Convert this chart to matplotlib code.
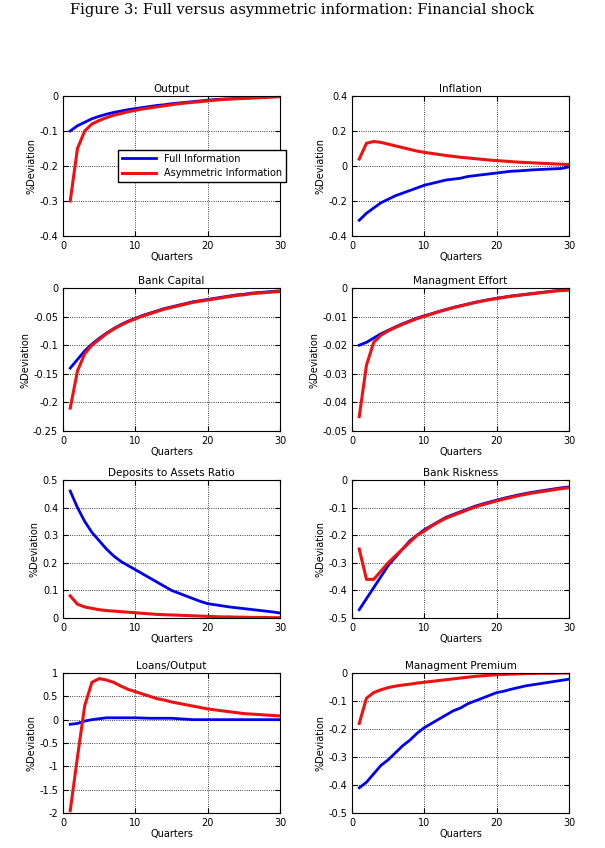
import numpy as np
from matplotlib import pyplot as plt

quarters = np.arange(1, 31)

output_full = [-0.10,-0.085,-0.075,-0.065,-0.058,-0.052,-0.047,-0.043,-0.039,-0.036,-0.033,-0.030,-0.027,-0.025,-0.022,-0.020,-0.018,-0.016,-0.014,-0.012,-0.010,-0.009,-0.008,-0.007,-0.006,-0.005,-0.004,-0.003,-0.002,-0.001]
output_asym = [-0.30,-0.15,-0.10,-0.08,-0.07,-0.062,-0.055,-0.05,-0.045,-0.041,-0.037,-0.034,-0.031,-0.028,-0.025,-0.022,-0.020,-0.018,-0.016,-0.014,-0.012,-0.010,-0.009,-0.008,-0.007,-0.006,-0.005,-0.004,-0.003,-0.002]

infl_full = [-0.31,-0.27,-0.24,-0.21,-0.19,-0.17,-0.155,-0.14,-0.125,-0.11,-0.10,-0.09,-0.08,-0.075,-0.07,-0.06,-0.055,-0.05,-0.045,-0.04,-0.035,-0.03,-0.028,-0.025,-0.022,-0.02,-0.018,-0.016,-0.014,-0.005]
infl_asym = [0.04,0.13,0.14,0.135,0.125,0.115,0.105,0.095,0.085,0.078,0.072,0.066,0.06,0.055,0.05,0.046,0.042,0.038,0.034,0.031,0.028,0.025,0.022,0.02,0.018,0.016,0.014,0.012,0.01,0.008]

capital_full = [-0.14,-0.125,-0.11,-0.098,-0.088,-0.079,-0.071,-0.064,-0.058,-0.053,-0.048,-0.044,-0.040,-0.036,-0.033,-0.030,-0.027,-0.024,-0.022,-0.020,-0.018,-0.016,-0.014,-0.012,-0.011,-0.009,-0.008,-0.007,-0.006,-0.005]
capital_asym = [-0.21,-0.145,-0.115,-0.10,-0.09,-0.08,-0.072,-0.065,-0.059,-0.054,-0.049,-0.045,-0.041,-0.037,-0.034,-0.031,-0.028,-0.025,-0.023,-0.021,-0.019,-0.017,-0.015,-0.013,-0.012,-0.010,-0.009,-0.008,-0.007,-0.006]

effort_full = [-0.02,-0.019,-0.0175,-0.016,-0.0148,-0.0136,-0.0125,-0.0115,-0.0105,-0.0097,-0.009,-0.0082,-0.0075,-0.0068,-0.0062,-0.0056,-0.005,-0.0045,-0.004,-0.0036,-0.0032,-0.0028,-0.0025,-0.0022,-0.0019,-0.0016,-0.0013,-0.001,-0.0008,-0.0006]
effort_asym = [-0.045,-0.027,-0.019,-0.0165,-0.015,-0.0138,-0.0127,-0.0117,-0.0107,-0.0099,-0.0091,-0.0083,-0.0076,-0.0069,-0.0063,-0.0057,-0.0051,-0.0046,-0.0041,-0.0037,-0.0033,-0.0029,-0.0026,-0.0023,-0.002,-0.0017,-0.0014,-0.0011,-0.0009,-0.0007]

deposits_full = [0.46,0.40,0.35,0.31,0.28,0.25,0.225,0.205,0.19,0.175,0.16,0.145,0.13,0.115,0.10,0.09,0.08,0.07,0.06,0.052,0.048,0.044,0.04,0.037,0.034,0.031,0.028,0.025,0.022,0.018]
deposits_asym = [0.08,0.05,0.04,0.035,0.03,0.027,0.025,0.023,0.021,0.019,0.017,0.015,0.013,0.012,0.011,0.010,0.009,0.008,0.007,0.006,0.005,0.004,0.004,0.003,0.003,0.002,0.002,0.002,0.001,0.001]

risk_full = [-0.47,-0.43,-0.39,-0.35,-0.31,-0.28,-0.25,-0.22,-0.20,-0.18,-0.165,-0.15,-0.135,-0.125,-0.115,-0.105,-0.095,-0.087,-0.08,-0.073,-0.066,-0.06,-0.054,-0.049,-0.044,-0.04,-0.036,-0.032,-0.028,-0.025]
risk_asym = [-0.25,-0.36,-0.36,-0.33,-0.30,-0.275,-0.25,-0.225,-0.20,-0.185,-0.167,-0.152,-0.138,-0.128,-0.118,-0.108,-0.098,-0.09,-0.083,-0.076,-0.069,-0.063,-0.057,-0.052,-0.047,-0.043,-0.039,-0.035,-0.031,-0.028]

loans_full = [-0.1,-0.08,-0.03,0,0.02,0.04,0.04,0.04,0.04,0.04,0.035,0.03,0.03,0.03,0.03,0.02,0.01,0,0,0,0,0,0,0,0,0,0,0,0,0]
loans_asym = [-1.95,-0.8,0.3,0.8,0.88,0.85,0.8,0.72,0.65,0.6,0.55,0.5,0.45,0.42,0.38,0.35,0.32,0.29,0.26,0.23,0.21,0.19,0.17,0.15,0.13,0.12,0.11,0.1,0.09,0.08]

premium_full = [-0.41,-0.39,-0.36,-0.33,-0.31,-0.285,-0.26,-0.24,-0.215,-0.195,-0.18,-0.165,-0.15,-0.135,-0.125,-0.11,-0.10,-0.09,-0.08,-0.07,-0.065,-0.058,-0.052,-0.046,-0.042,-0.038,-0.034,-0.03,-0.026,-0.022]
premium_asym = [-0.18,-0.09,-0.07,-0.06,-0.052,-0.047,-0.043,-0.04,-0.036,-0.033,-0.03,-0.027,-0.024,-0.021,-0.018,-0.015,-0.012,-0.01,-0.008,-0.006,-0.005,-0.004,-0.003,-0.002,-0.002,-0.001,-0.001,-0.001,0,0]

panels = [
    ("Output", output_full, output_asym, (-0.4, 0), 0.1),
    ("Inflation", infl_full, infl_asym, (-0.4, 0.4), 0.2),
    ("Bank Capital", capital_full, capital_asym, (-0.25, 0), 0.05),
    ("Managment Effort", effort_full, effort_asym, (-0.05, 0), 0.01),
    ("Deposits to Assets Ratio", deposits_full, deposits_asym, (0, 0.5), 0.1),
    ("Bank Riskness", risk_full, risk_asym, (-0.5, 0), 0.1),
    ("Loans/Output", loans_full, loans_asym, (-2, 1), 0.5),
    ("Managment Premium", premium_full, premium_asym, (-0.5, 0), 0.1),
]


def fmt(v, pos):
    v = round(v, 4)
    if v == 0:
        return "0"
    return f"{v:g}"


W, H = 605, 848
fig = plt.figure(figsize=(W / 100, H / 100), dpi=100)
fig.text(0.5, 1 - 10 / H, "Figure 3: Full versus asymmetric information: Financial shock",
         ha='center', va='center', family='DejaVu Serif', fontsize=10.5)

lefts = [63, 352]
tops = [96, 288, 480, 673]
bottoms = [236, 431, 618, 813]
width = 217

for i, (title, full, asym, ylim, step) in enumerate(panels):
    r, c = divmod(i, 2)
    ax = fig.add_axes([lefts[c] / W, 1 - bottoms[r] / H, width / W, (bottoms[r] - tops[r]) / H])
    ax.plot(quarters, full, color='#0000ee', lw=2, label='Full Information')
    ax.plot(quarters, asym, color='#ee1111', lw=2.2, label='Asymmetric Information')
    ax.set_xlim(0, 30)
    ax.set_ylim(*ylim)
    ax.set_xticks([0, 10, 20, 30])
    ax.set_yticks(np.round(np.arange(ylim[0], ylim[1] + step / 2, step), 3))
    ax.yaxis.set_major_formatter(plt.FuncFormatter(fmt))
    ax.grid(True, linestyle=':', color='black', lw=0.6)
    ax.tick_params(labelsize=7, direction='in', top=True, right=True)
    ax.set_title(title, fontsize=7.5, pad=3)
    ax.set_xlabel('Quarters', fontsize=7, labelpad=1)
    ax.set_ylabel('%Deviation', fontsize=7, labelpad=2)
    if i == 0:
        ax.legend(loc='center', bbox_to_anchor=(0.64, 0.5), fontsize=7, fancybox=False,
                  edgecolor='black', framealpha=1, handlelength=3.5)

plt.savefig('out.png', dpi=100)
